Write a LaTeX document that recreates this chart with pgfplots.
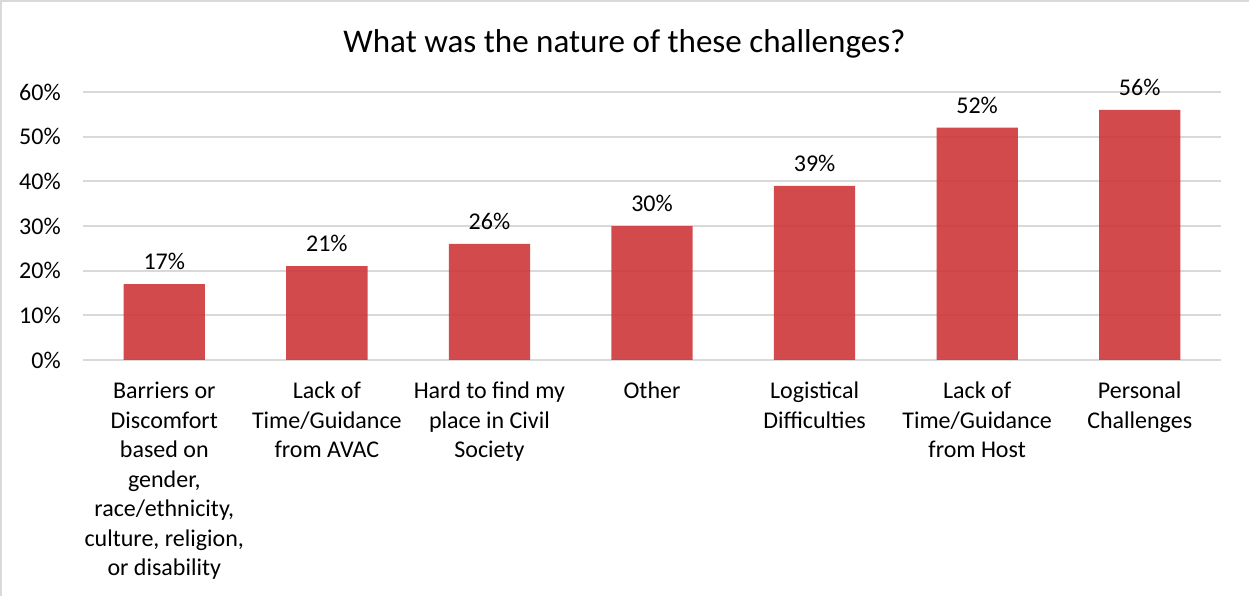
\documentclass[border=0pt]{standalone}
\usepackage{pgfplots}
\pgfplotsset{compat=1.18}
\usepackage{fontspec}
\setmainfont{Carlito}
\definecolor{barred}{RGB}{206,54,58}
\definecolor{gridgray}{RGB}{217,217,217}
\begin{document}
\begin{tikzpicture}[x=0.75pt,y=0.75pt]
\path[use as bounding box] (0,0) rectangle (1249,596);
\draw[gridgray, line width=1.5pt] (1,0) -- (1,595) -- (1249,595);
\node[anchor=base, font={\fontsize{24.8}{30}\selectfont}] at (624.5,543.5) {What was the nature of these challenges?};
\begin{axis}[
  at={(62.25pt,177pt)}, anchor=south west,
  width=853.5pt, height=201pt, scale only axis,
  xmin=-0.5, xmax=6.5, ymin=0, ymax=60,
  ytick={0,10,...,60},
  yticklabel={\pgfmathprintnumber{\tick}\%},
  /pgf/number format/assume math mode=true,
  xtick={0,...,6},
  xticklabels={{Barriers or\\Discomfort\\based on\\gender,\\race/ethnicity,\\culture, religion,\\or disability},
    {Lack of\\Time/Guidance\\from AVAC},
    {Hard to find my\\place in Civil\\Society},
    {Other},
    {Logistical\\Difficulties},
    {Lack of\\Time/Guidance\\from Host},
    {Personal\\Challenges}},
  x tick label style={align=center, anchor=north, inner sep=0pt, yshift=-16.5pt, font={\fontsize{18}{22.1}\selectfont}},
  y tick label style={anchor=east, inner sep=0pt, xshift=-16.5pt, font={\fontsize{18}{22.1}\selectfont}},
  major tick length=0pt,
  axis line style={draw=none},
  ymajorgrids, grid style={gridgray, line width=1.4pt},
  ybar, bar width=0.5,
  nodes near coords={\pgfmathprintnumber{\pgfplotspointmeta}\%},
  every node near coord/.append style={font={\fontsize{18}{22.1}\selectfont}, anchor=south, inner sep=0pt, yshift=10.5pt, black},
  clip=false,
]
\addplot[draw=none, fill=barred, fill opacity=0.9, text opacity=1] coordinates {(0,17) (1,21) (2,26) (3,30) (4,39) (5,52) (6,56)};
\end{axis}
\end{tikzpicture}
\end{document}
